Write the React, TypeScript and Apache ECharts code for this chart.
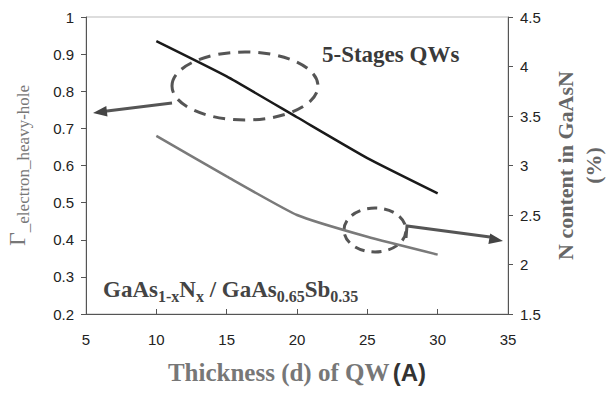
import React, { useEffect, useRef } from "react";
import * as echarts from "echarts";

const thickness = [10, 15, 20, 25, 30];
const gammaValues = [0.935, 0.84, 0.73, 0.62, 0.525];
const nContent = [3.3, 2.89, 2.5, 2.28, 2.1];
const xTicks = { min: 5, max: 35, interval: 5 };
const leftTicks = { min: 0.2, max: 1, interval: 0.1 };
const rightTicks = { min: 1.5, max: 4.5, interval: 0.5 };

const SERIF = "'Liberation Serif', 'Times New Roman', serif";
const SANS = "'Liberation Sans', Arial, sans-serif";

export default function App() {
  const ref = useRef<HTMLDivElement>(null);
  useEffect(() => {
    if (!ref.current) return;
    const chart = echarts.init(ref.current, undefined, { renderer: "svg" });
    const axisLine = { show: true, lineStyle: { color: "#555", width: 1 } };
    const tickLabel = { fontFamily: SANS, fontSize: 15, color: "#222" };
    chart.setOption({
      animation: false,
      backgroundColor: "#fff",
      grid: {
        left: 86,
        right: 108,
        top: 17,
        bottom: 79,
        containLabel: false,
        outerBoundsMode: "none",
        show: true,
        borderColor: "#bbb",
        borderWidth: 1,
      },
      xAxis: {
        type: "value",
        min: xTicks.min,
        max: xTicks.max,
        interval: xTicks.interval,
        axisLine,
        axisTick: { show: true, inside: true, length: 5, lineStyle: { color: "#555" } },
        splitLine: { show: false },
        axisLabel: { ...tickLabel, margin: 18 },
        name: "{a|Thickness (d) of QW} {b|(A)}",
        nameLocation: "middle",
        nameGap: 46,
        nameTextStyle: {
          rich: {
            a: { fontFamily: SERIF, fontWeight: "bold", fontSize: 25, color: "#777" },
            b: { fontFamily: SANS, fontWeight: "bold", fontSize: 24, color: "#333" },
          },
        },
      },
      yAxis: [
        {
          type: "value",
          position: "left",
          min: leftTicks.min,
          max: leftTicks.max,
          interval: leftTicks.interval,
          axisLine,
          axisTick: { show: true, length: 5, lineStyle: { color: "#555" } },
          splitLine: { show: false },
          axisLabel: { ...tickLabel, margin: 12 },
          name: "{g|Γ}{s|_electron_heavy-hole}",
          nameLocation: "middle",
          nameRotate: 90,
          nameGap: 54,
          nameTextStyle: {
            rich: {
              g: { fontFamily: SERIF, fontSize: 24, color: "#777", lineHeight: 30, verticalAlign: "middle" },
              s: { fontFamily: SERIF, fontSize: 17, color: "#777", verticalAlign: "bottom", lineHeight: 17 },
            },
          },
        },
        {
          type: "value",
          position: "right",
          min: rightTicks.min,
          max: rightTicks.max,
          interval: rightTicks.interval,
          axisLine,
          axisTick: { show: true, length: 5, lineStyle: { color: "#555" } },
          splitLine: { show: false },
          axisLabel: { ...tickLabel, margin: 12 },
          name: "N content in GaAsN\n(%)",
          nameLocation: "middle",
          nameRotate: 90,
          nameGap: 43,
          nameTextStyle: {
            fontFamily: SERIF,
            fontWeight: "bold",
            fontSize: 22,
            color: "#666",
            lineHeight: 28,
            align: "center",
          },
        },
      ],
      series: [
        {
          name: "Gamma",
          type: "line",
          yAxisIndex: 0,
          data: thickness.map((x, i) => [x, gammaValues[i]]),
          showSymbol: false,
          smooth: 0.15,
          lineStyle: { color: "#1a1a1a", width: 2.5 },
        },
        {
          name: "N content",
          type: "line",
          yAxisIndex: 1,
          data: thickness.map((x, i) => [x, nContent[i]]),
          showSymbol: false,
          smooth: 0.15,
          lineStyle: { color: "#7a7a7a", width: 2.5 },
        },
      ],
      graphic: [
        {
          type: "ellipse",
          shape: { cx: 245, cy: 86, rx: 73, ry: 34 },
          style: { fill: "none", stroke: "#555", lineWidth: 3, lineDash: [12, 8] },
        },
        {
          type: "polyline",
          shape: { points: [[172, 103], [105, 111.3]] },
          style: { stroke: "#555", lineWidth: 3, fill: "none" },
        },
        {
          type: "polygon",
          shape: { points: [[93, 113], [107.5, 116.5], [106.3, 106]] },
          style: { fill: "#444" },
        },
        {
          type: "ellipse",
          shape: { cx: 375, cy: 230, rx: 31, ry: 22 },
          style: { fill: "none", stroke: "#555", lineWidth: 3, lineDash: [10, 7] },
        },
        {
          type: "polyline",
          shape: { points: [[406, 238], [407, 226], [490, 237]] },
          style: { stroke: "#555", lineWidth: 3, fill: "none" },
        },
        {
          type: "polygon",
          shape: { points: [[503, 241], [488.4, 244], [490.2, 233.6]] },
          style: { fill: "#444" },
        },
        {
          type: "text",
          left: 322,
          top: 43,
          style: {
            text: "5-Stages QWs",
            fontFamily: SERIF,
            fontWeight: "bold",
            fontSize: 23,
            fill: "#3a3a3a",
          },
        },
        {
          type: "text",
          left: 103,
          top: 278,
          style: {
            text: "{b|GaAs}{s|1-x}{b|N}{s|x}{b| / GaAs}{s|0.65}{b|Sb}{s|0.35}",
            rich: {
              b: { fontFamily: SERIF, fontWeight: "bold", fontSize: 23, fill: "#444", lineHeight: 30, verticalAlign: "middle" },
              s: { fontFamily: SERIF, fontWeight: "bold", fontSize: 16, fill: "#444", lineHeight: 16, verticalAlign: "bottom" },
            },
          },
        },
      ],
    });
    return () => chart.dispose();
  }, []);
  return (
    <div
      ref={ref}
      style={{ position: "fixed", left: 0, top: 0, width: 616, height: 393 }}
    />
  );
}
